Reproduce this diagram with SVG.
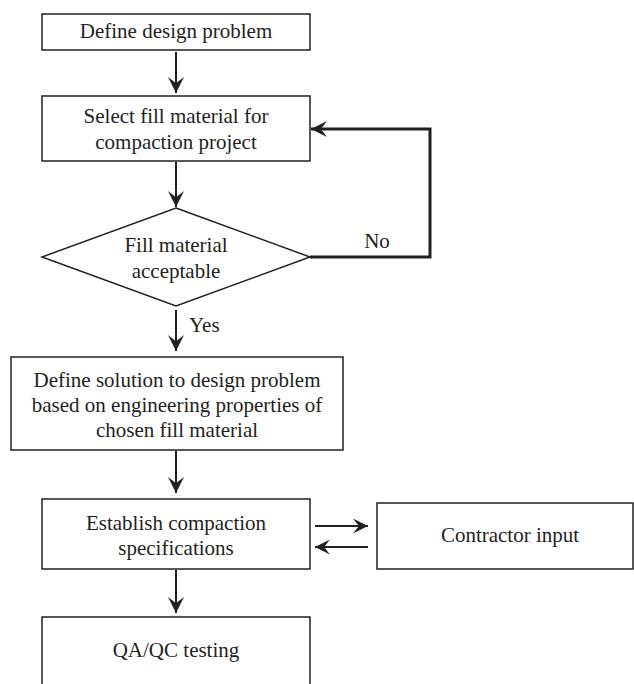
<svg xmlns="http://www.w3.org/2000/svg" width="634" height="684" viewBox="0 0 634 684">
<style>
.box{fill:#fff;stroke:#231f20;stroke-width:1.5}
.t{font-family:"Liberation Serif","Times New Roman",serif;font-size:21px;fill:#231f20;text-anchor:middle}
.c{fill:none;stroke:#231f20;stroke-width:2}
.thick{fill:none;stroke:#231f20;stroke-width:3}
.ah{fill:#231f20}
</style>
<defs>
<marker id="arr" markerUnits="userSpaceOnUse" viewBox="0 0 16 16" refX="16" refY="8" markerWidth="16" markerHeight="16" orient="auto">
<path class="ah" d="M0,0 L16,8 L0,16 L2,13.5 Q5,9 7,8 Q5,7 2,2.5 Z"/>
</marker>
<marker id="arrs" markerUnits="userSpaceOnUse" viewBox="0 0 16 16" refX="16" refY="8" markerWidth="15" markerHeight="15" orient="auto">
<path class="ah" d="M0,0 L16,8 L0,16 L2,13.5 Q5,9 7,8 Q5,7 2,2.5 Z"/>
</marker>
</defs>
<rect width="634" height="684" fill="#fff"/>
<g id="connectors">
<line class="c" x1="176" y1="52" x2="176" y2="93" marker-end="url(#arr)"/>
<line class="c" x1="176" y1="162" x2="176" y2="207" marker-end="url(#arr)"/>
<polyline class="thick" points="310,257 430,257 430,129 311,129" marker-end="url(#arr)"/>
<text class="t" x="377" y="248">No</text>
<line class="c" x1="176" y1="310" x2="176" y2="351" marker-end="url(#arr)"/>
<text class="t" x="189" y="332" style="text-anchor:start">Yes</text>
<line class="c" x1="176" y1="451" x2="176" y2="493" marker-end="url(#arr)"/>
<line class="c" x1="315" y1="526" x2="368" y2="526" marker-end="url(#arrs)"/>
<line class="c" x1="368" y1="547" x2="315" y2="547" marker-end="url(#arrs)"/>
<line class="c" x1="176" y1="570" x2="176" y2="613" marker-end="url(#arr)"/>
</g>
<g id="n1">
<rect class="box" x="42" y="14" width="268" height="36"/>
<text class="t" x="176" y="38">Define design problem</text>
</g>
<g id="n2">
<rect class="box" x="42" y="96" width="268" height="65"/>
<text class="t" x="176" y="123">Select fill material for</text>
<text class="t" x="176" y="149">compaction project</text>
</g>
<g id="n3">
<polygon class="box" points="176,208 310,257 176,306 42,257"/>
<text class="t" x="176" y="252">Fill material</text>
<text class="t" x="176" y="278">acceptable</text>
</g>
<g id="n4">
<rect class="box" x="11" y="357" width="332" height="93"/>
<text class="t" x="177" y="387">Define solution to design problem</text>
<text class="t" x="177" y="412">based on engineering properties of</text>
<text class="t" x="177" y="437">chosen fill material</text>
</g>
<g id="n5">
<rect class="box" x="42" y="499" width="268" height="70"/>
<text class="t" x="176" y="530">Establish compaction</text>
<text class="t" x="176" y="555">specifications</text>
</g>
<g id="n6">
<rect class="box" x="377" y="503" width="256" height="66"/>
<text class="t" x="510" y="542">Contractor input</text>
</g>
<g id="n7">
<rect class="box" x="42" y="617" width="268" height="90"/>
<text class="t" x="176" y="657">QA/QC testing</text>
</g>
</svg>
